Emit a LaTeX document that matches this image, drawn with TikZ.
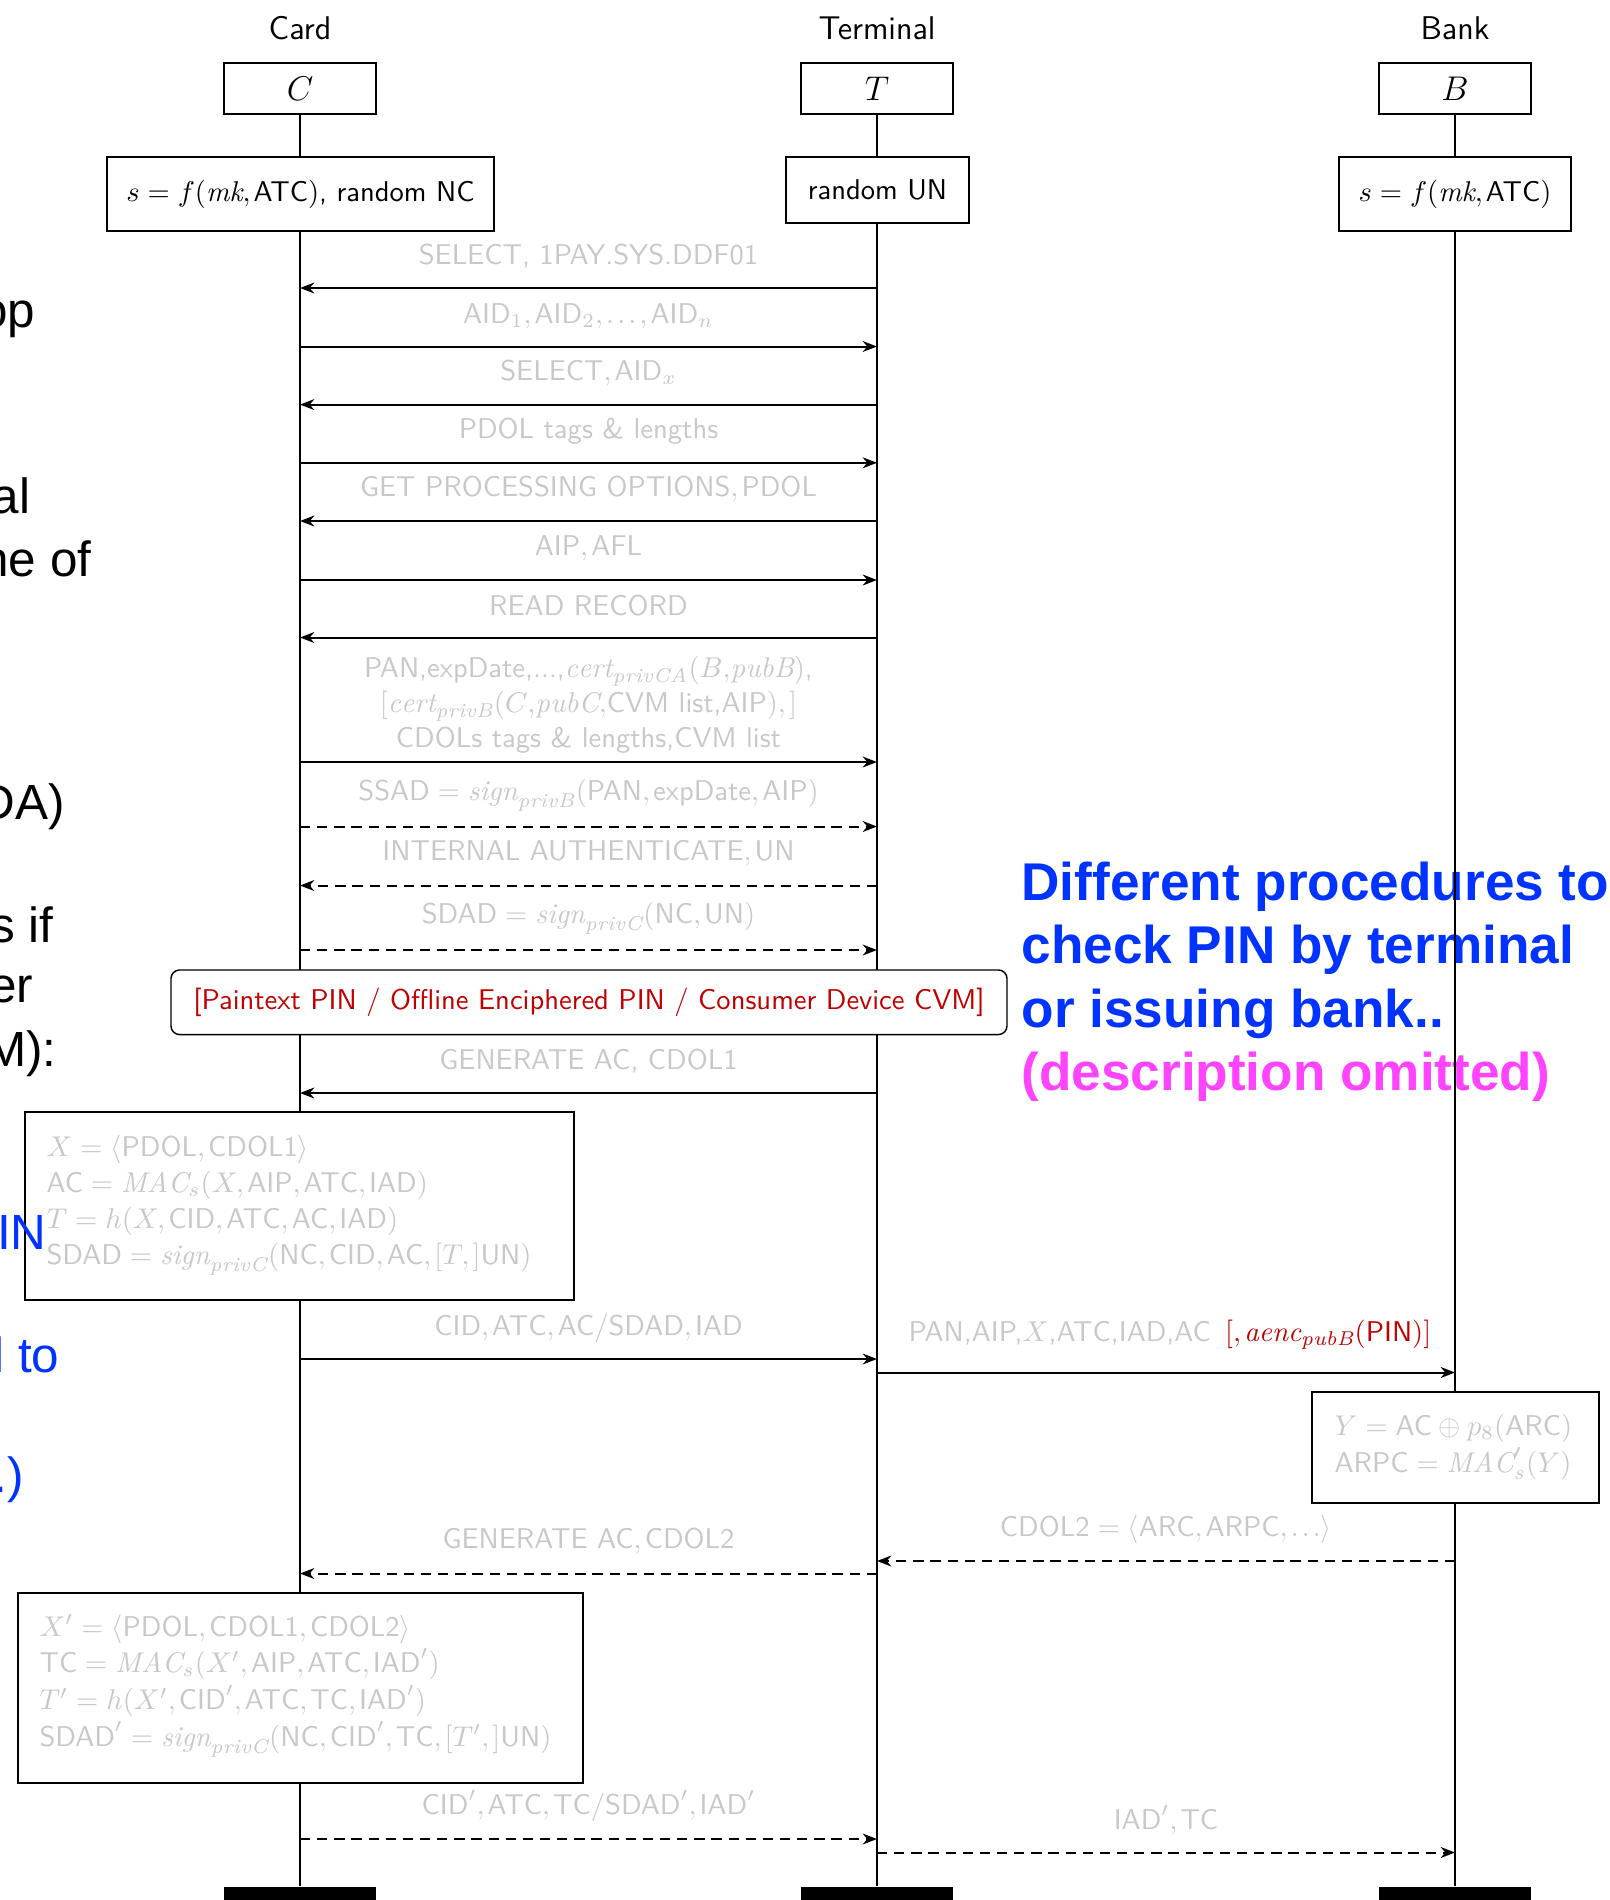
\documentclass[tikz,border=0pt]{standalone}
\usepackage{fontspec}
\newfontfamily\helvfont{Liberation Sans}
\usetikzlibrary{arrows.meta,fit}
\pgfdeclarelayer{background}
\pgfsetlayers{background,main}
\definecolor{msggray}{RGB}{200,200,200}
\definecolor{pinred}{RGB}{192,0,0}
\definecolor{noteblue}{RGB}{0,51,255}
\definecolor{notemagenta}{RGB}{255,68,255}
% upright sans words and italic multi-letter names inside formulas
\newcommand{\sq}[1]{\mbox{#1}}
\newcommand{\mi}[1]{\mathit{#1}}

\tikzset{
  head/.style={font=\sffamily\fontsize{11.5}{13}\selectfont, inner sep=0pt, anchor=base},
  actor/.style={draw, fill=white, line width=0.5pt, inner sep=0pt,
    minimum width=53.2pt, minimum height=17.85pt, font=\fontsize{11.5}{13}\selectfont},
  initbox/.style={draw, fill=white, line width=0.5pt, inner sep=0pt},
  endbar/.style={draw=none, fill=black, inner sep=0pt},
  lifeline/.style={line width=0.45pt},
  msg/.style={line width=0.7pt, -{Stealth[length=5pt,width=3.8pt,inset=1.6pt]}},
  msgdash/.style={msg, dash pattern=on 3.6pt off 2.4pt},
  lbl/.style={text=msggray, inner sep=0pt},
  calcbox/.style={draw, fill=white, line width=0.5pt, inner sep=0pt},
  calcline/.style={text=msggray, anchor=base west, inner sep=0pt},
  pinbox/.style={draw, fill=white, rounded corners=3pt, line width=0.5pt, text=pinred, inner sep=0pt},
  note/.style={font=\helvfont\bfseries\fontsize{18.6}{22.4}\selectfont, anchor=base west, inner sep=0pt},
  side/.style={font=\helvfont\fontsize{17.3}{22}\selectfont, anchor=base east, inner sep=0pt},
}

\begin{document}
\thinmuskip=2mu
\begin{tikzpicture}[x=0.35pt, y=-0.35pt, font=\sffamily\fontsize{10}{12}\selectfont]
\useasboundingbox (0,0) rectangle (1610,1900);

% participants
\node[head] (hC) at (300,39) {Card};
\node[head] (hT) at (877,39) {Terminal};
\node[head] (hB) at (1455,39) {Bank};

\node[actor] (C) at (300,88.5) {$C$};
\node[actor] (T) at (877,88.5) {$T$};
\node[actor] (B) at (1455,88.5) {$B$};

\node[initbox, minimum width=135.45pt, minimum height=25.9pt] (iC) at (300.5,194)
  {$s=f(\mi{mk},\sq{ATC})$, random NC};
\node[initbox, minimum width=64.05pt, minimum height=23.1pt] (iT) at (877.5,190) {random UN};
\node[initbox, minimum width=81.2pt, minimum height=25.9pt] (iB) at (1455,194)
  {$s=f(\mi{mk},\sq{ATC})$};

\node[endbar, fit={(224,1887) (376,1920)}] (Cend) {};
\node[endbar, fit={(801,1887) (953,1920)}] (Tend) {};
\node[endbar, fit={(1379,1887) (1531,1920)}] (Bend) {};

% side remarks and lifelines behind everything
\begin{pgfonlayer}{background}
\node[note, text=noteblue] (n1) at (1021,900) {Different procedures to};
\node[note, text=noteblue] (n2) at (1021,963.5) {check PIN by terminal};
\node[note, text=noteblue] (n3) at (1021,1027) {or issuing bank..};
\node[note, text=notemagenta] (n4) at (1021,1090.5) {(description omitted)};
\draw[lifeline] (C.south) -- (Cend.north);
\draw[lifeline] (T.south) -- (Tend.north);
\draw[lifeline] (B.south) -- (Bend.north);
\end{pgfonlayer}

% application selection and data reading
\coordinate (c1) at (300,288);   \coordinate (t1) at (877,288);
\draw[msg] (t1) -- (c1);
\node[lbl] (l1) at (588.5,256) {SELECT, 1PAY.SYS.DDF01};

\coordinate (c2) at (300,346.5); \coordinate (t2) at (877,346.5);
\draw[msg] (c2) -- (t2);
\node[lbl] (l2) at (588.5,316) {$\sq{AID}_1,\sq{AID}_2,\ldots,\sq{AID}_n$};

\coordinate (c3) at (300,404.6); \coordinate (t3) at (877,404.6);
\draw[msg] (t3) -- (c3);
\node[lbl] (l3) at (588.5,373) {$\sq{SELECT},\sq{AID}_x$};

\coordinate (c4) at (300,462.8); \coordinate (t4) at (877,462.8);
\draw[msg] (c4) -- (t4);
\node[lbl] (l4) at (588.5,431) {PDOL tags \& lengths};

\coordinate (c5) at (300,521);   \coordinate (t5) at (877,521);
\draw[msg] (t5) -- (c5);
\node[lbl] (l5) at (588.5,489.5) {$\sq{GET PROCESSING OPTIONS},\sq{PDOL}$};

\coordinate (c6) at (300,580);   \coordinate (t6) at (877,580);
\draw[msg] (c6) -- (t6);
\node[lbl] (l6) at (588.5,548) {$\sq{AIP},\sq{AFL}$};

\coordinate (c7) at (300,637.5); \coordinate (t7) at (877,637.5);
\draw[msg] (t7) -- (c7);
\node[lbl] (l7) at (588.5,606) {READ RECORD};

\coordinate (c8) at (300,762);   \coordinate (t8) at (877,762);
\draw[msg] (c8) -- (t8);
\node[lbl, align=center, font=\sffamily\fontsize{10}{12.25}\selectfont] (l8) at (588.5,705)
  {PAN,expDate,...,$\mi{cert}_{\mi{privCA}}(B{,}\mi{pubB})$,\\
   $[\mi{cert}_{\mi{privB}}(C{,}\mi{pubC}{,}$CVM list,AIP$),]$\\
   CDOLs tags \& lengths,CVM list};

% offline data authentication
\coordinate (c9) at (300,826.5); \coordinate (t9) at (877,826.5);
\draw[msgdash] (c9) -- (t9);
\node[lbl] (l9) at (588.5,795)
  {$\sq{SSAD}=\mi{sign}_{\mi{privB}}(\sq{PAN},\sq{expDate},\sq{AIP})$};

\coordinate (c10) at (300,885.5); \coordinate (t10) at (877,885.5);
\draw[msgdash] (t10) -- (c10);
\node[lbl] (l10) at (588.5,853) {$\sq{INTERNAL AUTHENTICATE},\sq{UN}$};

\coordinate (c11) at (300,950); \coordinate (t11) at (877,950);
\draw[msgdash] (c11) -- (t11);
\node[lbl] (l11) at (588.5,918) {$\sq{SDAD}=\mi{sign}_{\mi{privC}}(\sq{NC},\sq{UN})$};

% cardholder verification
\node[pinbox, minimum width=292.6pt, minimum height=22.6pt] (pin) at (589,1002.25)
  {[Paintext PIN / Offline Enciphered PIN / Consumer Device CVM]};

% first application cryptogram
\coordinate (c12) at (300,1093); \coordinate (t12) at (877,1093);
\draw[msg] (t12) -- (c12);
\node[lbl] (l12) at (588.5,1061) {GENERATE AC, CDOL1};

\node[calcbox, fit={(25,1112) (574,1300)}] (calc1) {};
\node[calcline] (k1) at (46,1156) {$X=\langle\sq{PDOL},\sq{CDOL1}\rangle$};
\node[calcline] (k2) at (46,1192) {$\sq{AC}=\mi{MAC}_s(X,\sq{AIP},\sq{ATC},\sq{IAD})$};
\node[calcline] (k3) at (46,1228) {$T=h(X,\sq{CID},\sq{ATC},\sq{AC},\sq{IAD})$};
\node[calcline] (k4) at (46,1264)
  {$\sq{SDAD}=\mi{sign}_{\mi{privC}}(\sq{NC},\sq{CID},\sq{AC},[T,]\sq{UN})$};

\coordinate (c13) at (300,1359); \coordinate (t13) at (877,1359);
\draw[msg] (c13) -- (t13);
\node[lbl] (l13) at (588.5,1328) {$\sq{CID},\sq{ATC},\sq{AC}/\sq{SDAD},\sq{IAD}$};

% online authorisation
\coordinate (t14) at (877,1372.5); \coordinate (b14) at (1455,1372.5);
\draw[msg] (t14) -- (b14);
\node[lbl] (l14) at (1170,1335)
  {PAN,AIP,$X$,ATC,IAD,AC\hspace{5pt}\textcolor{pinred}{$[,\mi{aenc}_{\mi{pubB}}(\sq{PIN})]$}};

\node[calcbox, fit={(1312,1392) (1599,1503)}] (calc2) {};
\node[calcline] (k5) at (1334,1435) {$Y=\sq{AC}\oplus p_8(\sq{ARC})$};
\node[calcline] (k6) at (1334,1472) {$\sq{ARPC}=\mi{MAC}'_s(Y)$};

\coordinate (t15) at (877,1561); \coordinate (b15) at (1455,1561);
\draw[msgdash] (b15) -- (t15);
\node[lbl] (l15) at (1166,1529) {$\sq{CDOL2}=\langle\sq{ARC},\sq{ARPC},\ldots\rangle$};

% second application cryptogram
\coordinate (c16) at (300,1573.5); \coordinate (t16) at (877,1573.5);
\draw[msgdash] (t16) -- (c16);
\node[lbl] (l16) at (588.5,1541.5) {$\sq{GENERATE AC},\sq{CDOL2}$};

\node[calcbox, fit={(18,1593) (583,1783)}] (calc3) {};
\node[calcline] (k7) at (39,1636) {$X'=\langle\sq{PDOL},\sq{CDOL1},\sq{CDOL2}\rangle$};
\node[calcline] (k8) at (39,1672.5) {$\sq{TC}=\mi{MAC}_s(X',\sq{AIP},\sq{ATC},\sq{IAD}')$};
\node[calcline] (k9) at (39,1709.5) {$T'=h(X',\sq{CID}',\sq{ATC},\sq{TC},\sq{IAD}')$};
\node[calcline] (k10) at (39,1746)
  {$\sq{SDAD}'=\mi{sign}_{\mi{privC}}(\sq{NC},\sq{CID}',\sq{TC},[T',]\sq{UN})$};

\coordinate (c17) at (300,1839); \coordinate (t17) at (877,1839);
\draw[msgdash] (c17) -- (t17);
\node[lbl] (l17) at (588.5,1806) {$\sq{CID}',\sq{ATC},\sq{TC}/\sq{SDAD}',\sq{IAD}'$};

\coordinate (t18) at (877,1852.5); \coordinate (b18) at (1455,1852.5);
\draw[msgdash] (t18) -- (b18);
\node[lbl] (l18) at (1166,1820) {$\sq{IAD}',\sq{TC}$};

% running text along the left margin
\node[side] (s1) at (36,327) {op};
\node[side] (s2) at (31,513.6) {al};
\node[side] (s3) at (92,576.6) {ne of};
\node[side] (s4) at (65.5,819) {DA)};
\node[side] (s5) at (54,942.5) {s if};
\node[side] (s6) at (34,1002) {er};
\node[side] (s7) at (57,1066) {M):};
\node[side, text=noteblue] (s8) at (47,1249) {IN};
\node[side, text=noteblue] (s9) at (60,1372.5) {l to};
\node[side, text=noteblue] (s10) at (24.5,1492) {.)};
\end{tikzpicture}
\end{document}
